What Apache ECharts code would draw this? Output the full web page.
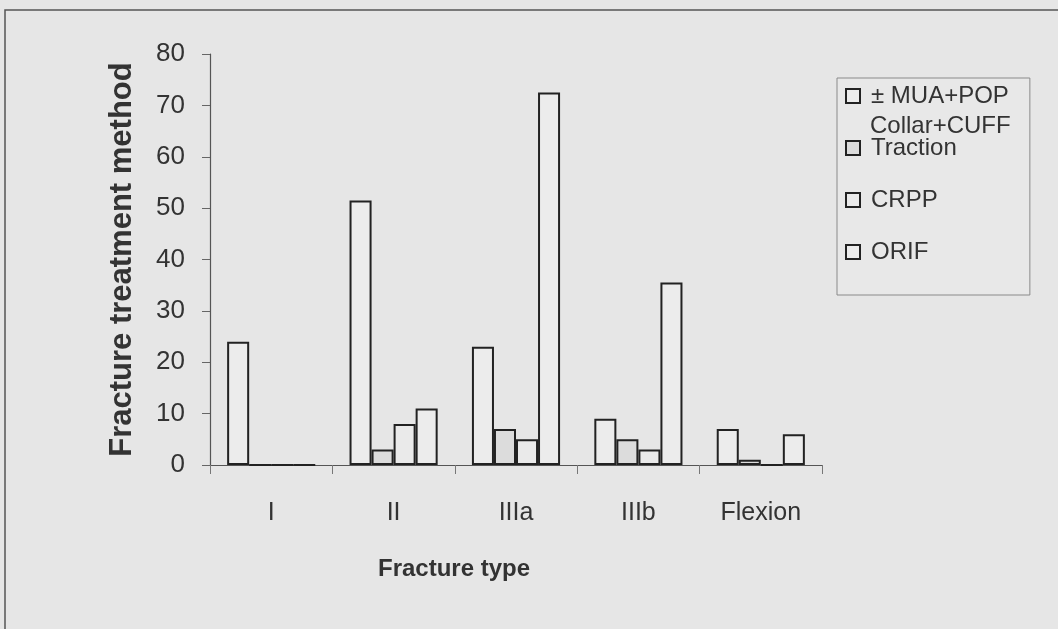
<!DOCTYPE html>
<html>
<head>
<meta charset="utf-8">
<script src="https://cdn.jsdelivr.net/npm/echarts@6/dist/echarts.min.js"></script>
<style>
html,body{margin:0;padding:0;background:#e6e6e6;}
#c{width:1058px;height:629px;}
</style>
</head>
<body>
<div id="c"></div>
<script>
var categories = ['I', 'II', 'IIIa', 'IIIb', 'Flexion'];
var seriesNames = ['± MUA+POP Collar+CUFF', 'Traction', 'CRPP', 'ORIF'];
var muaPop = [24, 51.5, 23, 9, 7];
var traction = [0, 3, 7, 5, 1];
var crpp = [0, 8, 5, 3, 0];
var orif = [0, 11, 72.5, 35.5, 6];
var yTicks = { min: 0, max: 80, interval: 10 };

var font = 'Liberation Sans, Arial, sans-serif';
var fills = ['#ececec', '#dcdcdc', '#eaeaea', '#ececec'];
var values = [muaPop, traction, crpp, orif];

var chart = echarts.init(document.getElementById('c'));
chart.setOption({
  backgroundColor: '#e6e6e6',
  animation: false,
  grid: { left: 210, right: 236, top: 54, bottom: 164 },
  graphic: [
    { type: 'rect', shape: { x: 5, y: 10, width: 1100, height: 700 },
      style: { fill: 'none', stroke: '#555', lineWidth: 1.5 }, silent: true },
    { type: 'text', left: 870, top: 114, z: 100,
      style: { text: 'Collar+CUFF', font: '24px ' + font, fill: '#333' } }
  ],
  legend: {
    orient: 'vertical',
    left: 837, top: 78,
    padding: [5, 21, 30, 8],
    itemGap: 26,
    itemWidth: 14, itemHeight: 14,
    borderColor: '#8a8a8a', borderWidth: 1,
    backgroundColor: '#e8e8e8',
    icon: 'rect',
    data: seriesNames,
    formatter: function (n) { return n === seriesNames[0] ? '± MUA+POP' : n; },
    textStyle: { fontFamily: font, fontSize: 24, color: '#333', lineHeight: 26, padding: [0, 0, 0, 6] }
  },
  xAxis: {
    type: 'category',
    data: categories,
    name: 'Fracture type',
    nameLocation: 'middle',
    nameGap: 92,
    nameTextStyle: { fontFamily: font, fontSize: 24, fontWeight: 'bold', color: '#333', padding: [0, 124, 0, 0] },
    axisLine: { lineStyle: { color: '#555', width: 1.2 } },
    axisTick: { show: true, length: 9, lineStyle: { color: '#777' } },
    axisLabel: { fontFamily: font, fontSize: 25, color: '#333', margin: 36 }
  },
  yAxis: {
    type: 'value',
    min: yTicks.min, max: yTicks.max, interval: yTicks.interval,
    name: 'Fracture treatment method',
    nameLocation: 'middle',
    nameGap: 72,
    nameTextStyle: { fontFamily: font, fontSize: 31, fontWeight: 'bold', color: '#333' },
    axisLine: { show: true, lineStyle: { color: '#555', width: 1.2 } },
    axisTick: { show: true, length: 8, lineStyle: { color: '#666' } },
    axisLabel: { fontFamily: font, fontSize: 26, color: '#333', margin: 25 },
    splitLine: { show: false }
  },
  series: seriesNames.map(function (n, i) {
    return {
      name: n,
      type: 'bar',
      data: values[i],
      barGap: '0%',
      barCategoryGap: '28%',
      itemStyle: { color: fills[i], borderColor: '#222', borderWidth: 2 }
    };
  })
});
</script>
</body>
</html>
